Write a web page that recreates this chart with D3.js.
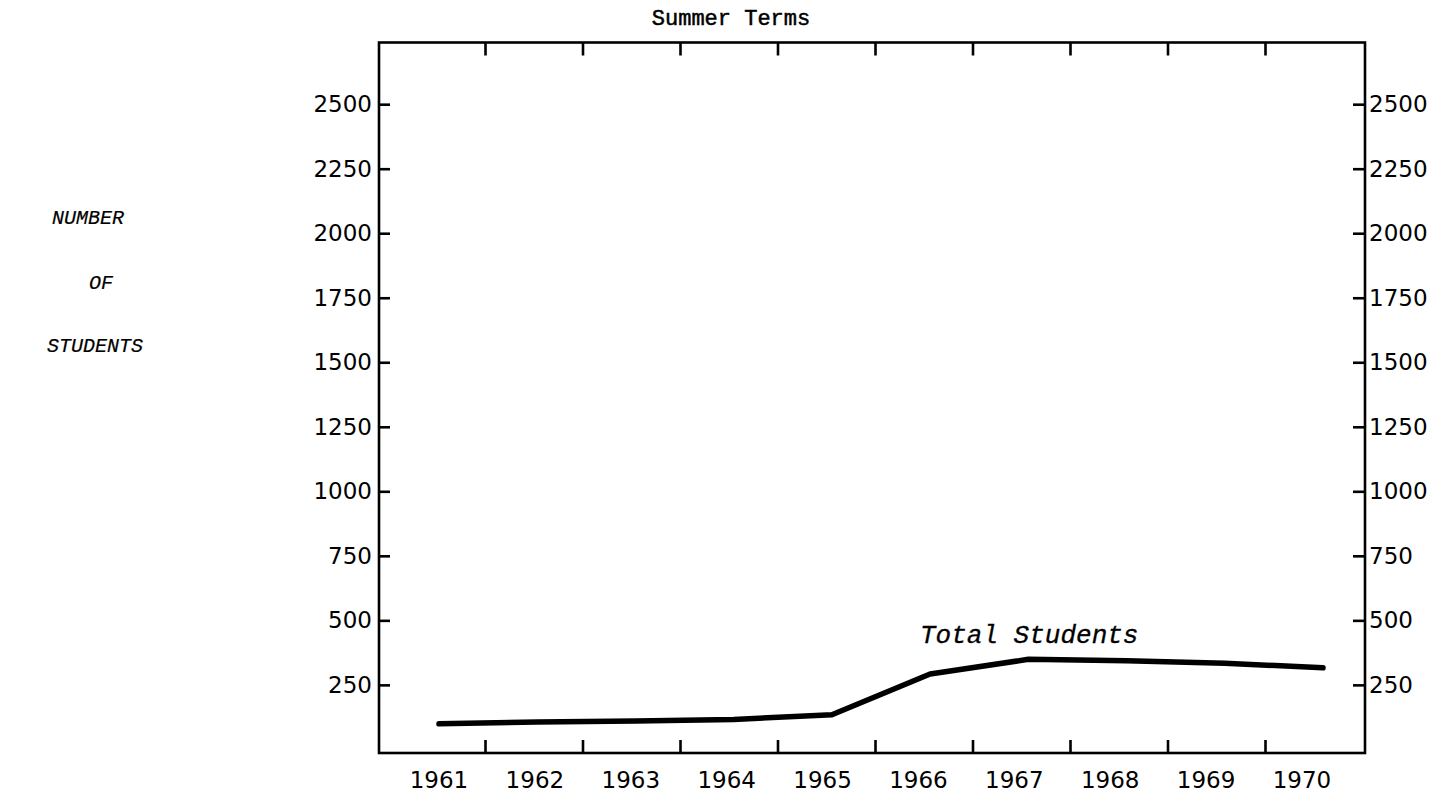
<!DOCTYPE html>
<html><head><meta charset="utf-8">
<script src="https://cdn.jsdelivr.net/npm/d3@7"></script>
<style>body{margin:0;background:#fff}</style>
</head><body>
<svg id="c" width="1450" height="796"></svg>
<script>
const years = [1961,1962,1963,1964,1965,1966,1967,1968,1969,1970];
const totalStudents = [99,106,110,116,134,292,349,343,334,316];
const yTicks = [250,500,750,1000,1250,1500,1750,2000,2250,2500];
const chartTitle = "Summer Terms";
const yTitleLines = ["NUMBER","OF","STUDENTS"];
const seriesLabel = "Total Students";

const svg = d3.select("#c");
const L = 379, R = 1365, T = 42.5, B = 753;
const mono = "'Liberation Mono', 'DejaVu Sans Mono', monospace";
const sans = "'DejaVu Sans', Verdana, sans-serif";

const x = d3.scaleLinear().domain([1961,1970]).range([439,1323]);
const xLab = d3.scaleLinear().domain([1961,1970]).range([439,1302]);
const xTick = d3.scaleLinear().domain([1961,1969]).range([485,1265]);
const y = d3.scaleLinear().domain([-14,2739]).range([B,T]);

// box
svg.append("rect").attr("x",L).attr("y",T).attr("width",R-L).attr("height",B-T)
  .attr("fill","none").attr("stroke","#000").attr("stroke-width",2.6);

const tickYears = years.slice(0,-1);
function styleAxis(g){
  g.select(".domain").remove();
  g.selectAll(".tick line").attr("stroke","#000").attr("stroke-width",2.6);
  g.selectAll(".tick text").attr("font-family",sans).attr("font-size",23).attr("fill","#000");
}
svg.append("g").attr("transform",`translate(0,${B})`)
  .call(d3.axisBottom(xTick).tickValues(tickYears).tickSize(-13).tickFormat(""))
  .call(styleAxis);
svg.append("g").attr("transform",`translate(0,${T})`)
  .call(d3.axisTop(xTick).tickValues(tickYears).tickSize(-13).tickFormat(""))
  .call(styleAxis);
svg.append("g").attr("transform",`translate(${L},0)`)
  .call(d3.axisLeft(y).tickValues(yTicks).tickSize(-11).tickPadding(7).tickFormat(d3.format("d")))
  .call(styleAxis);
svg.append("g").attr("transform",`translate(${R},0)`)
  .call(d3.axisRight(y).tickValues(yTicks).tickSize(-12).tickPadding(4).tickFormat(d3.format("d")))
  .call(styleAxis);

// year labels
svg.append("g").selectAll("text").data(years).join("text")
  .attr("x",d=>xLab(d)).attr("y",788).attr("text-anchor","middle")
  .attr("font-family",sans).attr("font-size",23).text(d=>d);

// line
svg.append("path").datum(years.map((d,i)=>[d,totalStudents[i]]))
  .attr("fill","none").attr("stroke","#000").attr("stroke-width",5.5)
  .attr("stroke-linejoin","round").attr("stroke-linecap","round")
  .attr("d",d3.line().x(d=>x(d[0])).y(d=>y(d[1])));

// series label
svg.append("text").attr("x",920).attr("y",643)
  .attr("font-family",mono).attr("font-style","italic").attr("font-size",26)
  .attr("stroke","#000").attr("stroke-width",0.3).text(seriesLabel);

// title
svg.append("text").attr("x",731).attr("y",25).attr("text-anchor","middle")
  .attr("font-family",mono).attr("font-size",22)
  .attr("stroke","#000").attr("stroke-width",0.5).text(chartTitle);

// y title
const yt = [[88,224],[101,289],[95,352]];
svg.append("g").selectAll("text").data(yTitleLines).join("text")
  .attr("x",(d,i)=>yt[i][0]).attr("y",(d,i)=>yt[i][1]).attr("text-anchor","middle")
  .attr("font-family",mono).attr("font-style","italic").attr("font-size",20)
  .attr("stroke","#000").attr("stroke-width",0.2).text(d=>d);
</script>
</body></html>
